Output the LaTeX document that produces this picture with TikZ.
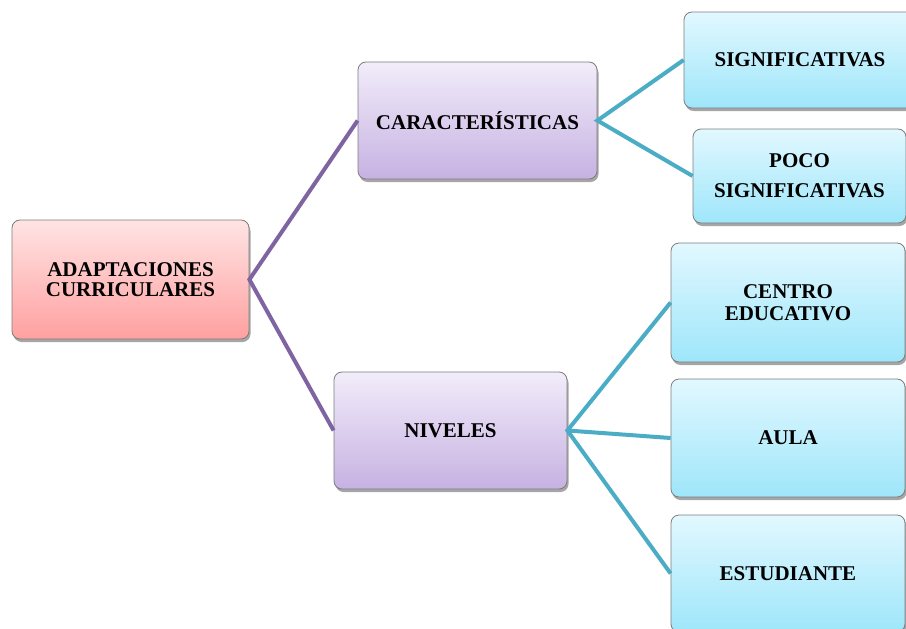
\documentclass[tikz,border=0pt]{standalone}
\usepackage{fontspec}
\setmainfont{Liberation Serif}
\usetikzlibrary{shadows}
\definecolor{pinkT}{RGB}{255,228,228}
\definecolor{pinkB}{RGB}{255,160,160}
\definecolor{purT}{RGB}{242,236,250}
\definecolor{purB}{RGB}{198,178,226}
\definecolor{bluT}{RGB}{226,248,255}
\definecolor{bluB}{RGB}{158,230,250}
\definecolor{edge}{RGB}{125,125,125}
\definecolor{purline}{RGB}{128,100,162}
\definecolor{tealline}{RGB}{75,172,198}
\tikzset{
  box/.style={rectangle, rounded corners=8pt, draw=edge, line width=0.8pt,
    align=center, inner sep=0pt,
    font=\fontsize{21}{20}\selectfont\bfseries,
    drop shadow={shadow xshift=1.5pt, shadow yshift=-3pt, opacity=0.35, fill=black}},
  pinkbox/.style={box, top color=pinkT, bottom color=pinkB},
  purbox/.style={box, top color=purT, bottom color=purB},
  blubox/.style={box, top color=bluT, bottom color=bluB},
  purconn/.style={draw=purline, line width=4pt},
  tealconn/.style={draw=tealline, line width=4pt},
}
\begin{document}
\begin{tikzpicture}[x=1pt,y=1pt]
\useasboundingbox (0,0) rectangle (906,-629);
\clip (0,0) rectangle (906,-629);
\fill[white] (0,0) rectangle (906,-629);
\node[pinkbox, minimum width=237pt, minimum height=119pt] (root) at (130.5,-279.5) {ADAPTACIONES\\CURRICULARES};
\node[purbox, minimum width=239pt, minimum height=117pt] (carac) at (477.5,-120.5) {CARACTERÍSTICAS};
\node[purbox, minimum width=233pt, minimum height=117pt] (niv) at (450.5,-430.5) {NIVELES};
\node[blubox, minimum width=232pt, minimum height=96pt] (sig) at (800,-60) {SIGNIFICATIVAS};
\node[blubox, minimum width=213pt, minimum height=94pt, font=\fontsize{21}{30}\selectfont\bfseries] (poco) at (799.5,-176) {POCO\\SIGNIFICATIVAS};
\node[blubox, minimum width=234pt, minimum height=119pt, font=\fontsize{21}{22}\selectfont\bfseries] (centro) at (788,-302.5) {CENTRO\\EDUCATIVO};
\node[blubox, minimum width=234pt, minimum height=118pt] (aula) at (788,-438) {AULA};
\node[blubox, minimum width=234pt, minimum height=117pt] (est) at (788,-573.5) {ESTUDIANTE};
\draw[purconn] (carac.west) -- (root.east) -- (niv.west);
\draw[tealconn] (sig.west) -- (carac.east) -- (poco.west);
\draw[tealconn] (centro.west) -- (niv.east) -- (est.west);
\draw[tealconn] (niv.east) -- (aula.west);
\end{tikzpicture}
\end{document}
